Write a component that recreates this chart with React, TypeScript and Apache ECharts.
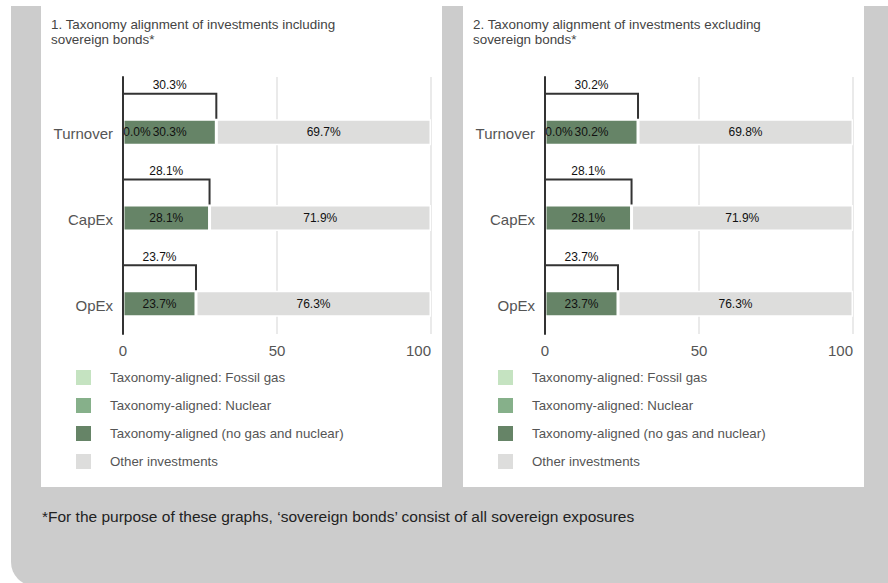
import React, { useEffect, useRef } from 'react';
import * as echarts from 'echarts';

const categories = ['Turnover', 'CapEx', 'OpEx'];
const xTickValues = [0, 50, 100];

const nameGas = 'Taxonomy-aligned: Fossil gas';
const nameNuclear = 'Taxonomy-aligned: Nuclear';
const nameAligned = 'Taxonomy-aligned (no gas and nuclear)';
const nameOther = 'Other investments';
const legendNames = [nameGas, nameNuclear, nameAligned, nameOther];

// Panel 1: including sovereign bonds
const leftTotal = [30.3, 28.1, 23.7];
const leftGas = [0, 0, 0];
const leftNuclear = [0, 0, 0];
const leftAligned = [30.3, 28.1, 23.7];
const leftOther = [69.7, 71.9, 76.3];

// Panel 2: excluding sovereign bonds
const rightTotal = [30.2, 28.1, 23.7];
const rightGas = [0, 0, 0];
const rightNuclear = [0, 0, 0];
const rightAligned = [30.2, 28.1, 23.7];
const rightOther = [69.8, 71.9, 76.3];

// which zero-value labels are printed
const zeroLabelShown = [true, false, false];

const leftTitle = ['1. Taxonomy alignment of investments including', 'sovereign bonds*'];
const rightTitle = ['2. Taxonomy alignment of investments excluding', 'sovereign bonds*'];
const footnote = '*For the purpose of these graphs, \u2018sovereign bonds\u2019 consist of all sovereign exposures';

const FONT = '"Liberation Sans", Arial, Helvetica, sans-serif';
const colGas = '#c5e3c1';
const colNuclear = '#86b08a';
const colAligned = '#668467';
const colOther = '#dddddc';

const BAR_W = 26;

const fmt = (p: any) => Number(p.value).toFixed(1) + '%';

const barLabel = {
  show: true,
  position: 'inside',
  color: '#111',
  fontSize: 12,
  fontFamily: FONT,
  formatter: fmt,
};

function panelSeries(idx: number, total: number[], gas: number[], nuclear: number[], aligned: number[], other: number[]) {
  const stack = 'stack' + idx;
  const common = {
    type: 'bar',
    xAxisIndex: idx,
    yAxisIndex: idx,
    barWidth: BAR_W,
    barGap: '-4%',
  };
  const filledStyle = (c: string) => ({ color: c, borderColor: '#ffffff', borderWidth: 1.5 });
  return [
    // invisible placeholder keeping the slot above the stacked bar, carrying the total label
    {
      ...common,
      name: 'Taxonomy-aligned total',
      data: total,
      itemStyle: { color: 'rgba(0,0,0,0)', borderWidth: 0 },
      label: { ...barLabel, position: 'top', distance: 3 },
      z: 1,
    },
    // open outline (top and right edges) of the total bar
    {
      type: 'custom',
      name: 'Taxonomy-aligned total outline',
      xAxisIndex: idx,
      yAxisIndex: idx,
      encode: { x: 0, y: 1 },
      data: total.map((v, i) => [v, i]),
      z: 3,
      renderItem: (params: any, api: any) => {
        const v = api.value(0);
        const cat = api.value(1);
        const start = api.coord([0, cat]);
        const end = api.coord([v, cat]);
        const top = start[1] - BAR_W;
        const bottom = start[1] - 1;
        return {
          type: 'polyline',
          shape: { points: [[start[0], top], [end[0], top], [end[0], bottom]] },
          style: { stroke: '#333333', lineWidth: 2, fill: null },
        };
      },
    },
    {
      ...common,
      name: nameGas,
      stack,
      data: gas,
      itemStyle: filledStyle(colGas),
      label: { show: false },
    },
    {
      ...common,
      name: nameNuclear,
      stack,
      data: nuclear.map((v, i) =>
        zeroLabelShown[i]
          ? { value: v, label: { ...barLabel, position: 'insideLeft', distance: 1 } }
          : v
      ),
      itemStyle: filledStyle(colNuclear),
      label: { show: false },
    },
    {
      ...common,
      name: nameAligned,
      stack,
      data: aligned,
      itemStyle: filledStyle(colAligned),
      label: barLabel,
    },
    {
      ...common,
      name: nameOther,
      stack,
      data: other,
      itemStyle: filledStyle(colOther),
      label: barLabel,
    },
  ];
}

function xAxisFor(idx: number) {
  return {
    type: 'value',
    gridIndex: idx,
    min: xTickValues[0],
    max: xTickValues[xTickValues.length - 1],
    interval: xTickValues[1] - xTickValues[0],
    axisLine: { show: false },
    axisTick: { show: false },
    axisLabel: {
      color: '#555',
      fontSize: 15,
      fontFamily: FONT,
      margin: 9,
      alignMaxLabel: 'right',
    },
    splitLine: { show: true, lineStyle: { color: '#e3e3e3', width: 1.5 } },
  };
}

function yAxisFor(idx: number) {
  return {
    type: 'category',
    gridIndex: idx,
    data: categories,
    inverse: true,
    z: 5,
    axisLine: { show: true, lineStyle: { color: '#333333', width: 2 } },
    axisTick: { show: false },
    axisLabel: {
      color: '#555',
      fontSize: 15,
      fontFamily: FONT,
      margin: 10,
      verticalAlign: 'top',
      lineHeight: 28,
    },
    splitLine: { show: false },
  };
}

function legendFor(left: number) {
  return {
    orient: 'vertical',
    left,
    top: 370,
    padding: 0,
    itemWidth: 15,
    itemHeight: 15,
    itemGap: 13,
    icon: 'rect',
    data: legendNames,
    selectedMode: false,
    itemStyle: { borderWidth: 0 },
    textStyle: { color: '#555', fontSize: 13.3, fontFamily: FONT, padding: [0, 0, 0, 14] },
  };
}

function titleTexts(x: number, lines: string[]) {
  return lines.map((t, i) => ({
    type: 'text',
    z: 10,
    x,
    y: 24 + i * 15.5,
    style: { text: t, fill: '#444', fontSize: 13.4, fontFamily: FONT, verticalAlign: 'middle', align: 'left' },
  }));
}

const option: any = {
  animation: false,
  backgroundColor: '#ffffff',
  graphic: [
    {
      type: 'rect',
      z: -10,
      shape: { x: 11, y: 6, width: 900, height: 580, r: [0, 0, 0, 24] },
      style: { fill: '#cccccc' },
    },
    { type: 'rect', z: -9, shape: { x: 41, y: 0, width: 401, height: 487 }, style: { fill: '#ffffff' } },
    { type: 'rect', z: -9, shape: { x: 463, y: 0, width: 401, height: 487 }, style: { fill: '#ffffff' } },
    ...titleTexts(51, leftTitle),
    ...titleTexts(473, rightTitle),
    {
      type: 'text',
      z: 10,
      x: 42,
      y: 516,
      style: { text: footnote, fill: '#222', fontSize: 15.5, fontFamily: FONT, verticalAlign: 'middle', align: 'left' },
    },
  ],
  grid: [
    { left: 123, top: 77, width: 308, height: 257, containLabel: false, outerBoundsMode: 'none' },
    { left: 545, top: 77, width: 308, height: 257, containLabel: false, outerBoundsMode: 'none' },
  ],
  xAxis: [xAxisFor(0), xAxisFor(1)],
  yAxis: [yAxisFor(0), yAxisFor(1)],
  legend: [legendFor(76), legendFor(498)],
  series: [
    ...panelSeries(0, leftTotal, leftGas, leftNuclear, leftAligned, leftOther),
    ...panelSeries(1, rightTotal, rightGas, rightNuclear, rightAligned, rightOther),
  ],
};

export default function App() {
  const ref = useRef<HTMLDivElement>(null);
  useEffect(() => {
    if (!ref.current) return;
    const chart = echarts.init(ref.current, null, { renderer: 'svg' });
    chart.setOption(option);
    return () => chart.dispose();
  }, []);
  return (
    <div
      ref={ref}
      style={{ position: 'fixed', left: 0, top: 0, width: 888, height: 583 }}
    />
  );
}
